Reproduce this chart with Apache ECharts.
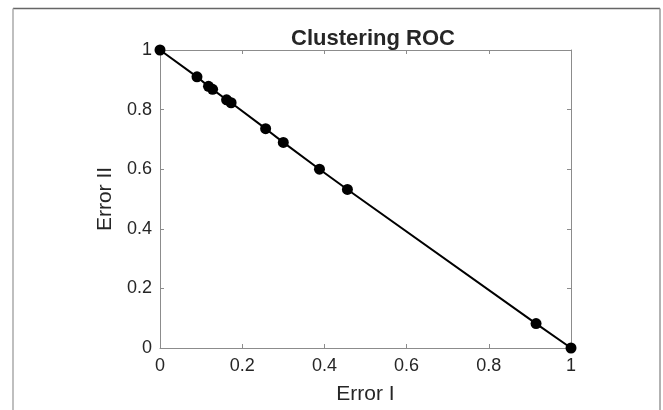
<!DOCTYPE html>
<html>
<head>
<meta charset="utf-8">
<script src="https://cdn.jsdelivr.net/npm/echarts@6/dist/echarts.min.js"></script>
<style>
  html, body { margin: 0; padding: 0; background: #fff; }
  #chart { width: 663px; height: 410px; }
</style>
</head>
<body>
<div id="chart"></div>
<script>
// values
let errorI = [0, 0.09, 0.118, 0.128, 0.162, 0.173, 0.257, 0.3, 0.388, 0.456, 0.915, 1];
let errorII = [1, 0.91, 0.878, 0.868, 0.833, 0.823, 0.736, 0.69, 0.6, 0.532, 0.082, 0];
let tickLabels = ['0', '0.2', '0.4', '0.6', '0.8', '1'];

let font = 'Liberation Sans, Arial, Helvetica, sans-serif';
let txt = '#262626';
let axisCol = '#8c8c8c';

let points = errorI.map(function (x, i) { return [x, errorII[i]]; });

function mainAxis(pos, name, gap) {
    return {
        type: 'value', position: pos, min: 0, max: 1, interval: 0.2,
        name: name, nameLocation: 'middle', nameGap: gap,
        nameTextStyle: { fontFamily: font, fontSize: 21, color: txt },
        axisLine: { show: true, onZero: false, lineStyle: { color: axisCol, width: 1 } },
        axisTick: { show: true, inside: true, length: 4, lineStyle: { color: axisCol } },
        axisLabel: {
            fontFamily: font, fontSize: 18, color: txt,
            margin: pos === 'bottom' ? 9 : 8,
            formatter: function (v) { return tickLabels[Math.round(v * 5)]; }
        },
        splitLine: { show: false }
    };
}
function boxAxis(pos) {
    return {
        type: 'value', position: pos, min: 0, max: 1, interval: 0.2,
        axisLine: { show: true, onZero: false, lineStyle: { color: axisCol, width: 1 } },
        axisTick: { show: true, inside: true, length: 4, lineStyle: { color: axisCol } },
        axisLabel: { show: false },
        splitLine: { show: false }
    };
}

let myChart = echarts.init(document.getElementById('chart'), null, { renderer: 'canvas' });
myChart.setOption({
    animation: false,
    backgroundColor: '#fff',
    title: {
        text: 'Clustering ROC',
        left: 368, top: 23, textAlign: 'center',
        textStyle: { fontFamily: font, fontSize: 22, fontWeight: 'bold', color: txt }
    },
    grid: { left: 160, right: 92, top: 50, bottom: 58 },
    xAxis: [mainAxis('bottom', 'Error I', 36), boxAxis('top')],
    yAxis: [mainAxis('left', 'Error II', 37), boxAxis('right')],
    graphic: [
        { type: 'line', shape: { x1: 13, y1: 8.5, x2: 660, y2: 8.5 }, style: { stroke: '#666', lineWidth: 1.5 } },
        { type: 'line', shape: { x1: 13, y1: 8.5, x2: 13, y2: 410 }, style: { stroke: '#aaa', lineWidth: 1.5 } },
        { type: 'line', shape: { x1: 660, y1: 8.5, x2: 660, y2: 410 }, style: { stroke: '#999', lineWidth: 1.5 } }
    ],
    series: [{
        type: 'line',
        data: points,
        symbol: 'circle',
        symbolSize: 11,
        clip: false,
        lineStyle: { color: '#000', width: 2 },
        itemStyle: { color: '#000' }
    }]
});
</script>
</body>
</html>
